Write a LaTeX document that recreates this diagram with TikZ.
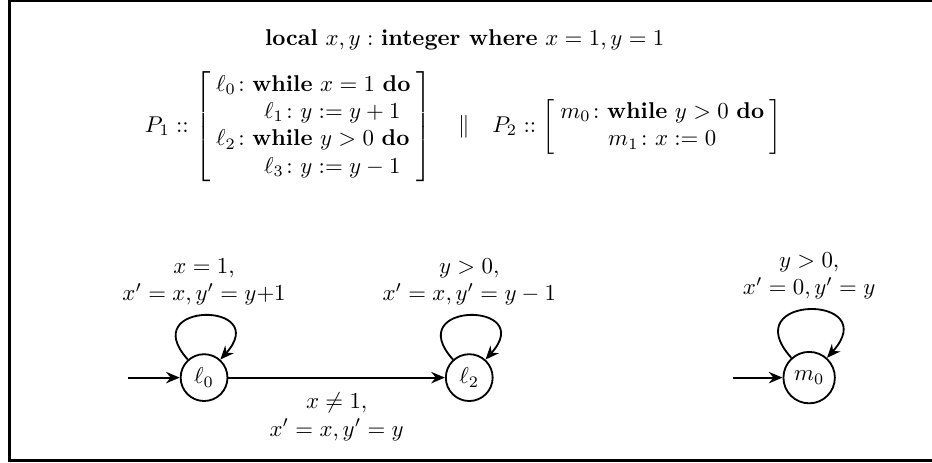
\documentclass[tikz,border=0pt]{standalone}
\usepackage{amsmath}
\usetikzlibrary{arrows.meta}
\begin{document}
\begin{tikzpicture}[>={Stealth[length=6pt,width=5pt,inset=2pt]}, line width=0.8pt,
  loc/.style={circle, draw, inner sep=3pt},
  selfloop/.style={out=132, in=48, looseness=6.2}]
\useasboundingbox (0,0) rectangle (14.34,7.12);
\draw[line width=1.3pt] (14.6,7.11) -- (0.15,7.11) -- (0.15,0.04) -- (14.6,0.04);
% declarations and programs
\node (decl) at (7.15,6.51) {\textbf{local} $x,y:$\ \textbf{integer where} $x=1,y=1$};
\node (prog) at (7.13,5.17) {\setlength{\arraycolsep}{2.5pt}$P_1 :: \left[\begin{array}{l}
    \ell_0\colon \textbf{while}\ x=1\ \textbf{do}\\
    \hspace{2.1em}\ell_1\colon y:=y+1\\
    \ell_2\colon \textbf{while}\ y>0\ \textbf{do}\\
    \hspace{2.1em}\ell_3\colon y:=y-1
  \end{array}\right] \quad \| \quad
  P_2 :: \left[\begin{array}{c}
    m_0\colon \textbf{while}\ y>0\ \textbf{do}\\
    m_1\colon x:=0
  \end{array}\right]$};
% transition systems
\node[loc] (l0) at (3.14,1.31) {$\ell_0$};
\node[loc] (l2) at (7.22,1.31) {$\ell_2$};
\node[loc] (m0) at (12.45,1.31) {$m_0$};
\coordinate (in0) at (1.97,1.31);
\coordinate (in1) at (11.28,1.31);
\draw[->] (in0) -- (l0);
\draw[->] (in1) -- (m0);
\draw[->] (l0) -- node[below=3pt, align=center] {$x\neq 1,$\\ $x'=x, y'=y$} (l2);
\draw[->] (l0) to[selfloop] node[above=1pt, align=center] {$x=1,$\\ $x'=x, y'=y{+}1$} (l0);
\draw[->] (l2) to[selfloop] node[above=1pt, align=center] {$y>0,$\\ $x'=x, y'=y-1$} (l2);
\draw[->] (m0) to[selfloop] node[above=1pt, align=center] {$y>0,$\\ $x'=0, y'=y$} (m0);
\end{tikzpicture}
\end{document}
